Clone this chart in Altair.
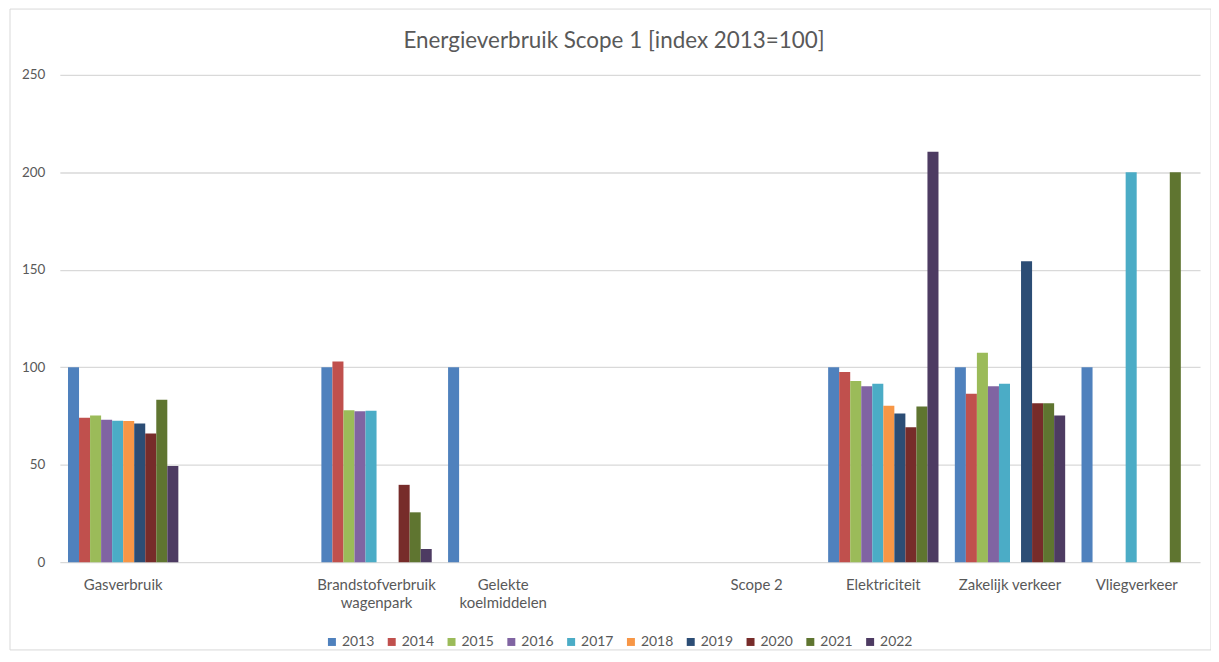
import altair as alt
import pandas as pd

years = ["2013", "2014", "2015", "2016", "2017", "2018", "2019", "2020", "2021", "2022"]
categories = ["Gasverbruik", " ", "Brandstofverbruik|wagenpark", "Gelekte|koelmiddelen", "  ",
              "Scope 2", "Elektriciteit", "Zakelijk verkeer", "Vliegverkeer"]
colors = ["#4F81BD", "#C0504D", "#9BBB59", "#8064A2", "#4BACC6",
          "#F79646", "#2C4D75", "#772C2A", "#5F7530", "#4D3B62"]
title_text = ["Energieverbruik Scope 1 [index 2013=100]"]

gasverbruik = [100, 74.1, 75.2, 73.1, 72.6, 72.5, 71.1, 66.0, 83.3, 49.4]
brandstof = [100, 102.9, 78.0, 77.4, 77.7, None, None, 39.7, 25.6, 6.8]
koelmiddelen = [100, None, None, None, None, None, None, None, None, None]
scope2 = [None] * 10
elektriciteit = [100, 97.6, 92.9, 90.3, 91.5, 80.3, 76.3, 69.2, 79.9, 210.5]
zakelijk = [100, 86.4, 107.4, 90.3, 91.5, None, 154.4, 81.6, 81.6, 75.2]
vlieg = [100, None, None, None, 200, None, None, None, 200, None]

series = {
    "Gasverbruik": gasverbruik,
    "Brandstofverbruik|wagenpark": brandstof,
    "Gelekte|koelmiddelen": koelmiddelen,
    "Scope 2": scope2,
    "Elektriciteit": elektriciteit,
    "Zakelijk verkeer": zakelijk,
    "Vliegverkeer": vlieg,
}

rows = []
for cat, vals in series.items():
    for y, v in zip(years, vals):
        if v is not None:
            rows.append({"categorie": cat, "jaar": y, "waarde": v})
df = pd.DataFrame(rows)

FONT = "Lato"
TXT = "#595959"
GRID = "#d9d9d9"

bars = alt.Chart(df).mark_bar().encode(
    x=alt.X("categorie:N", sort=categories,
            scale=alt.Scale(domain=categories, paddingInner=0.129, paddingOuter=0.0645),
            axis=alt.Axis(title=None, labelAngle=0, ticks=False, domain=False,
                          labelExpr="split(datum.label, '|')", labelFontSize=15,
                          labelColor=TXT, labelFont=FONT, labelPadding=15,
                          labelLineHeight=18, labelBaseline="top")),
    xOffset=alt.XOffset("jaar:N", scale=alt.Scale(domain=years, paddingInner=0, paddingOuter=0)),
    y=alt.Y("waarde:Q", scale=alt.Scale(domain=[0, 250], nice=False),
            axis=alt.Axis(title=None, values=[0, 50, 100, 150, 200, 250], ticks=False,
                          domain=False, grid=True, gridColor=GRID, gridWidth=1.3,
                          labelFontSize=13.5, labelColor=TXT, labelFont=FONT,
                          labelPadding=15)),
    color=alt.Color("jaar:N", scale=alt.Scale(domain=years, range=colors),
                    legend=alt.Legend(title=None, orient="none", direction="horizontal",
                                      legendX=266, legendY=562, symbolType="square",
                                      symbolSize=64, symbolStrokeWidth=0,
                                      labelFontSize=14, labelColor=TXT, labelFont=FONT,
                                      columnPadding=10, labelOffset=3)),
)

frame = alt.Chart(pd.DataFrame({"k": [0]})).mark_rect(
    filled=False, stroke=GRID, strokeWidth=1
).encode(x=alt.value(-50), x2=alt.value(1155), y=alt.value(-66), y2=alt.value(577))

title = alt.Chart(pd.DataFrame({"t": title_text})).mark_text(
    font=FONT, fontSize=22.5, color=TXT, align="center", baseline="middle"
).encode(text="t:N", x=alt.value(556), y=alt.value(-34))

chart = alt.layer(frame, bars, title).properties(
    width=1144, height=489,
    autosize=alt.AutoSizeParams(type="none"),
    padding={"left": 52, "top": 66, "right": 11, "bottom": 89},
).configure_view(stroke=None)

chart.save("out.html", embed_options={"renderer": "svg", "actions": False})
